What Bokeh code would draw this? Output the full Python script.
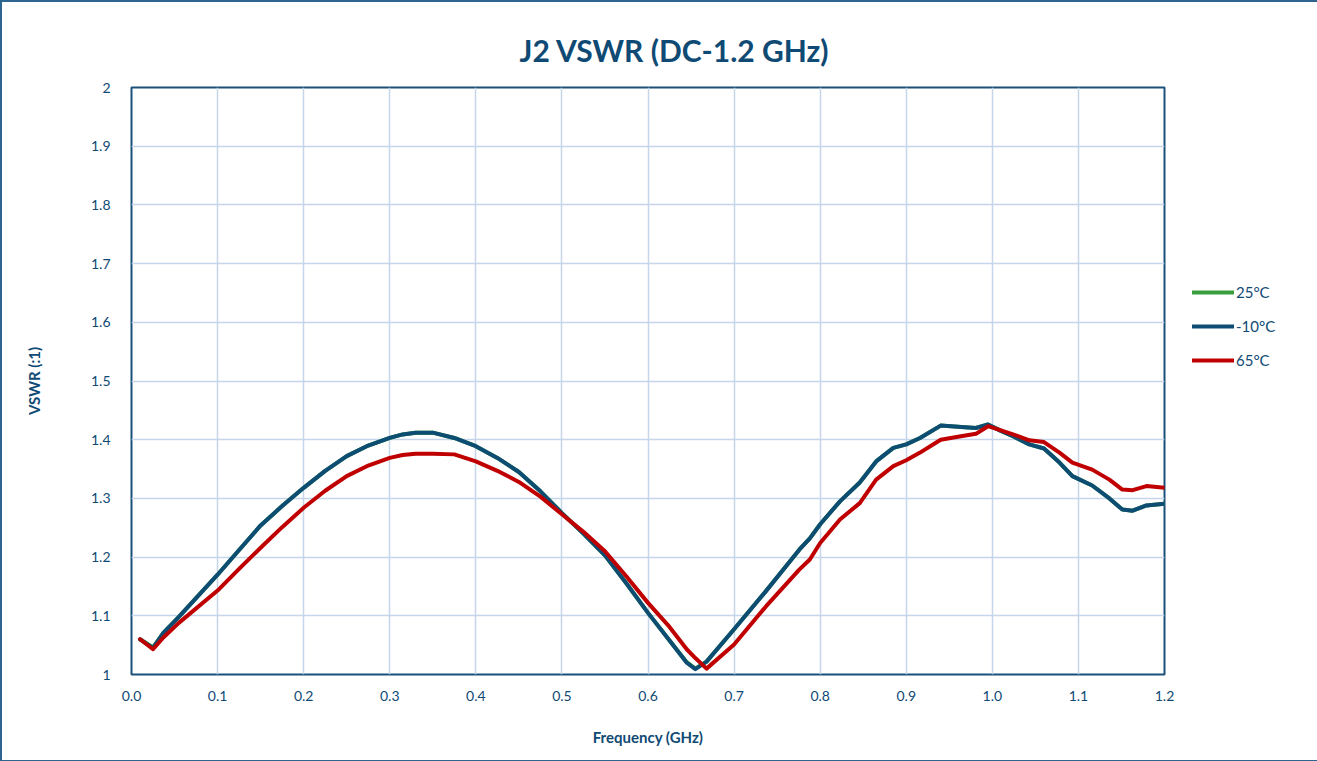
from bokeh.plotting import figure
from bokeh.models import FixedTicker, NumeralTickFormatter, Legend, LegendItem, Range1d
from bokeh.embed import file_html
from bokeh.resources import INLINE

freq_ghz = [0.01, 0.025, 0.037, 0.055, 0.1, 0.125, 0.15, 0.175, 0.2, 0.225, 0.25, 0.275, 0.3,
            0.315, 0.33, 0.35, 0.375, 0.4, 0.425, 0.45, 0.475, 0.5, 0.525, 0.55, 0.575, 0.6,
            0.625, 0.645, 0.655, 0.668, 0.7, 0.737, 0.776, 0.788, 0.8, 0.823, 0.846,
            0.865, 0.885, 0.9, 0.916, 0.94, 0.96, 0.981, 0.995, 1.01, 1.024, 1.043, 1.06, 1.078,
            1.093, 1.116, 1.136, 1.151, 1.163, 1.179, 1.2]

vswr_25c = [1.060, 1.046, 1.071, 1.098, 1.170, 1.212, 1.254, 1.287, 1.318, 1.347, 1.372, 1.390,
            1.403, 1.409, 1.412, 1.412, 1.403, 1.389, 1.369, 1.345, 1.312, 1.275, 1.240, 1.203,
            1.155, 1.105, 1.058, 1.021, 1.010, 1.022, 1.077, 1.142, 1.213, 1.232,
            1.256, 1.295, 1.327, 1.363, 1.386, 1.392, 1.403, 1.424, 1.422, 1.420, 1.426, 1.415,
            1.406, 1.392, 1.385, 1.361, 1.338, 1.322, 1.300, 1.281, 1.279, 1.288, 1.291]

vswr_m10c = [1.060, 1.045, 1.071, 1.098, 1.170, 1.212, 1.254, 1.287, 1.318, 1.347, 1.372, 1.390,
             1.403, 1.409, 1.412, 1.412, 1.403, 1.389, 1.369, 1.345, 1.312, 1.275, 1.240, 1.203,
             1.155, 1.105, 1.058, 1.020, 1.009, 1.022, 1.077, 1.142, 1.213, 1.232,
             1.256, 1.295, 1.327, 1.363, 1.386, 1.392, 1.403, 1.424, 1.422, 1.420, 1.426, 1.415,
             1.406, 1.392, 1.385, 1.361, 1.338, 1.322, 1.300, 1.281, 1.279, 1.288, 1.291]

vswr_65c = [1.060, 1.043, 1.063, 1.088, 1.143, 1.180, 1.216, 1.251, 1.284, 1.313, 1.338, 1.356,
            1.369, 1.374, 1.376, 1.376, 1.375, 1.363, 1.347, 1.328, 1.303, 1.273, 1.243, 1.210,
            1.167, 1.122, 1.081, 1.043, 1.028, 1.010, 1.051, 1.116, 1.179, 1.196,
            1.224, 1.264, 1.292, 1.332, 1.355, 1.365, 1.378, 1.400, 1.405, 1.410, 1.423, 1.416,
            1.409, 1.399, 1.396, 1.378, 1.361, 1.349, 1.332, 1.315, 1.314, 1.321, 1.318]

series_names = ["25°C", "-10°C", "65°C"]
series_colors = ["#3a9c3a", "#0d4d73", "#c00000"]
x_ticks = [0.0, 0.1, 0.2, 0.3, 0.4, 0.5, 0.6, 0.7, 0.8, 0.9, 1.0, 1.1, 1.2]
y_ticks = [1.0, 1.1, 1.2, 1.3, 1.4, 1.5, 1.6, 1.7, 1.8, 1.9, 2.0]

TXT = "#0f4a74"
FONT = "Lato"

p = figure(frame_width=1033, frame_height=587, output_backend="svg", toolbar_location=None,
           x_range=Range1d(0, 1.2), y_range=Range1d(1, 2),
           min_border_left=129, min_border_right=147, min_border_top=85, min_border_bottom=86,
           title="J2 VSWR (DC-1.2 GHz)")
p.styles = {"border": "2px solid #2c6690"}

p.title.text_font = FONT
p.title.text_font_size = "30px"
p.title.text_font_style = "bold"
p.title.text_color = TXT
p.title.align = "left"
p.title.offset = 388
p.title.standoff = 40

p.outline_line_color = "#1a5079"
p.outline_line_width = 2
p.outline_line_alpha = 1

p.xgrid.grid_line_color = "#c5d6ea"
p.ygrid.grid_line_color = "#c5d6ea"
p.xgrid.grid_line_width = 1.5
p.ygrid.grid_line_width = 1.5

p.xaxis.ticker = FixedTicker(ticks=x_ticks)
p.yaxis.ticker = FixedTicker(ticks=y_ticks)
p.xaxis.formatter = NumeralTickFormatter(format="0.0")
p.yaxis.formatter = NumeralTickFormatter(format="0.[0]")

for ax in (p.xaxis[0], p.yaxis[0]):
    ax.axis_line_color = None
    ax.major_tick_line_color = None
    ax.minor_tick_line_color = None
    ax.major_label_text_font = FONT
    ax.major_label_text_font_size = "14px"
    ax.major_label_text_color = TXT
    ax.axis_label_text_font = FONT
    ax.axis_label_text_font_size = "15px"
    ax.axis_label_text_font_style = "bold"
    ax.axis_label_text_color = TXT

p.xaxis.axis_label = "Frequency (GHz)"
p.yaxis.axis_label = "VSWR (:1)"
p.xaxis.major_label_standoff = 10
p.yaxis.major_label_standoff = 15
p.xaxis.axis_label_standoff = 24
p.yaxis.axis_label_standoff = 45

renderers = []
for vals, c in zip([vswr_25c, vswr_m10c, vswr_65c], series_colors):
    r = p.line(freq_ghz, vals, line_color=c, line_width=4, line_join="round", line_cap="round")
    renderers.append(r)

legend = Legend(items=[LegendItem(label=n, renderers=[r]) for n, r in zip(series_names, renderers)],
                location="top_left", title=" ")
legend.label_text_font = FONT
legend.label_text_font_size = "15px"
legend.label_text_color = TXT
legend.title_text_font_size = "10px"
legend.title_standoff = 156
legend.glyph_width = 42
legend.glyph_height = 20
legend.label_height = 20
legend.label_standoff = 2
legend.spacing = 14
legend.padding = 0
legend.margin = 28
legend.border_line_color = None
legend.background_fill_alpha = 0
p.add_layout(legend, "right")

open("out.html", "w").write(file_html(p, INLINE))
